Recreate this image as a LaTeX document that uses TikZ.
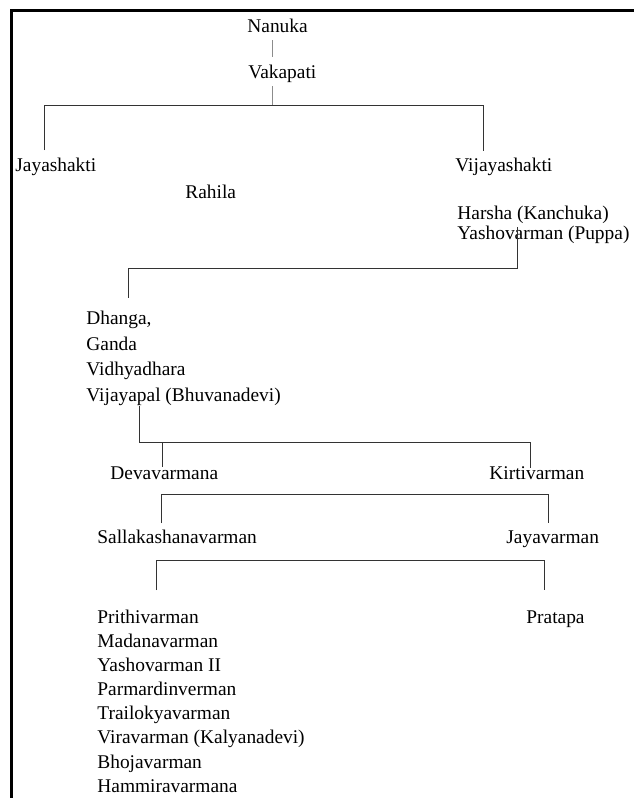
\documentclass[tikz,border=0pt]{standalone}
\usepackage{fontspec}
\setmainfont{Liberation Serif}
\begin{document}
\begin{tikzpicture}[x=0.5pt,y=-0.5pt,
  lbl/.style={anchor=base west, inner sep=0pt, font=\fontsize{9.7}{11}\selectfont},
  conn/.style={draw=black!80, line width=0.45pt},
  light/.style={draw=black!45, line width=0.4pt},
  frameline/.style={draw=black, line width=1.1pt}]
\useasboundingbox (0,0) rectangle (634,798);
\fill[white] (0,0) rectangle (634,798);
\draw[frameline] (11.5,798) -- (11.5,10.5) -- (634,10.5);

% names
\node[lbl] (nanuka) at (247,32) {Nanuka};
\node[lbl] (vakapati) at (248,78) {Vakapati};
\node[lbl] (jaya) at (15,171) {Jayashakti};
\node[lbl] (vijaya) at (455,171) {Vijayashakti};
\node[lbl] (rahila) at (185,198) {Rahila};
\node[lbl] (harsha) at (457,219) {Harsha (Kanchuka)};
\node[lbl] (yasho) at (457,239) {Yashovarman (Puppa)};
\node[lbl] (dhanga) at (86,324) {Dhanga,};
\node[lbl] (ganda) at (86,350) {Ganda};
\node[lbl] (vidhya) at (86,375) {Vidhyadhara};
\node[lbl] (vijayapal) at (86,401) {Vijayapal (Bhuvanadevi)};
\node[lbl] (deva) at (110,479) {Devavarmana};
\node[lbl] (kirti) at (489,479) {Kirtivarman};
\node[lbl] (salla) at (97,543) {Sallakashanavarman};
\node[lbl] (jayav) at (506,543) {Jayavarman};
\node[lbl] (prithi) at (97,623) {Prithivarman};
\node[lbl] (pratapa) at (526,623) {Pratapa};
\node[lbl] (madana) at (97,647) {Madanavarman};
\node[lbl] (yashoII) at (97,671) {Yashovarman II};
\node[lbl] (parmardi) at (97,695) {Parmardinverman};
\node[lbl] (trailokya) at (97,719.5) {Trailokyavarman};
\node[lbl] (vira) at (97,743.5) {Viravarman (Kalyanadevi)};
\node[lbl] (bhoja) at (97,768) {Bhojavarman};
\node[lbl] (hammira) at (97,792) {Hammiravarmana};

% connector points
\coordinate (nA) at (272,40);  \coordinate (vA) at (272,57);
\coordinate (vB) at (272,86);  \coordinate (j1) at (272,105);
\coordinate (jL) at (44,105);  \coordinate (jR) at (483,105);
\coordinate (jLe) at (44,150); \coordinate (jRe) at (483,151);
\coordinate (y1) at (517,227); \coordinate (y2) at (517,268);
\coordinate (y3) at (128,268); \coordinate (y4) at (128,298);
\coordinate (p1) at (139,406); \coordinate (p2) at (139,442);
\coordinate (p3) at (530,442); \coordinate (p4) at (530,468);
\coordinate (d1) at (162,442); \coordinate (d2) at (162,467);
\coordinate (s1) at (161,523); \coordinate (s2) at (161,494);
\coordinate (s3) at (548,494); \coordinate (s4) at (548,523);
\coordinate (t1) at (156,590); \coordinate (t2) at (156,560);
\coordinate (t3) at (544,560); \coordinate (t4) at (544,590);

\draw[light] (nA) -- (vA);
\draw[light] (vB) -- (j1);
\draw[conn] (jLe) -- (jL) -- (jR) -- (jRe);
\draw[conn] (y1) -- (y2) -- (y3) -- (y4);
\draw[conn] (p1) -- (p2) -- (p3) -- (p4);
\draw[conn] (d1) -- (d2);
\draw[conn] (s1) -- (s2) -- (s3) -- (s4);
\draw[conn] (t1) -- (t2) -- (t3) -- (t4);
\end{tikzpicture}
\end{document}
